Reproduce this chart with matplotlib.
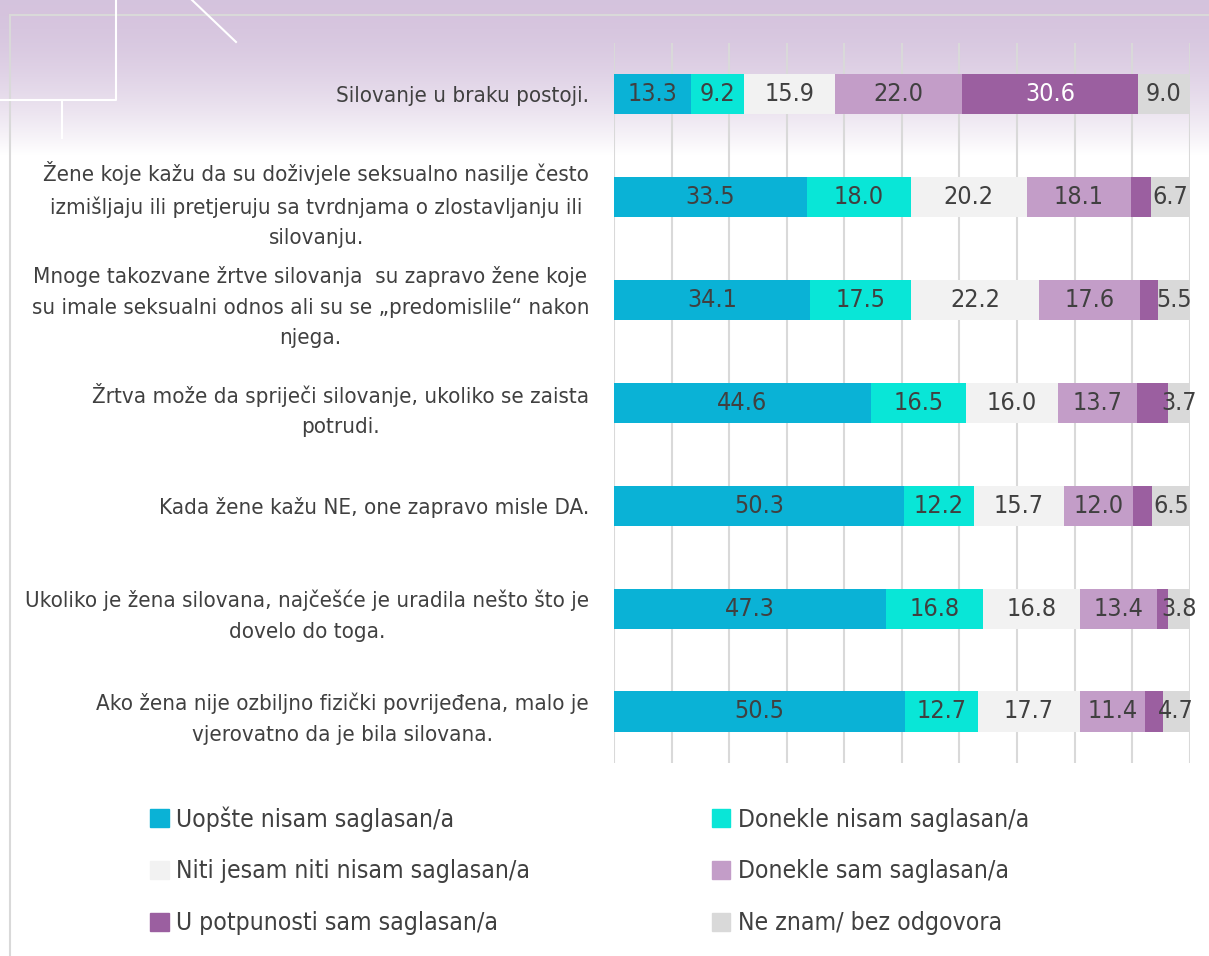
import numpy as np
import matplotlib.pyplot as plt
from matplotlib import font_manager as fm
from matplotlib.patches import Patch

# pick a narrow face if one is installed
fonts = fm.fontManager.ttflist
narrow = [f for f in fonts if ('Narrow' in f.name or 'Condensed' in f.name
                               or f.stretch in ('condensed', 'semi-condensed'))
          and f.weight in (400, 'normal', 'regular') and f.style == 'normal']
if narrow:
    plt.rcParams['font.family'] = [narrow[0].name, 'DejaVu Sans']
    plt.rcParams['font.stretch'] = narrow[0].stretch
    scale = 1.0
else:
    plt.rcParams['font.family'] = ['DejaVu Sans']
    scale = 0.8

statements = [
    'Silovanje u braku postoji.',
    'Žene koje kažu da su doživjele seksualno nasilje često\nizmišljaju ili pretjeruju sa tvrdnjama o zlostavljanju ili\nsilovanju.',
    'Mnoge takozvane žrtve silovanja  su zapravo žene koje\nsu imale seksualni odnos ali su se „predomislile“ nakon\nnjega.',
    'Žrtva može da spriječi silovanje, ukoliko se zaista\npotrudi.',
    'Kada žene kažu NE, one zapravo misle DA.',
    'Ukoliko je žena silovana, najčešće je uradila nešto što je\ndovelo do toga.',
    'Ako žena nije ozbiljno fizički povrijeđena, malo je\nvjerovatno da je bila silovana.',
]

answers = [
    'Uopšte nisam saglasan/a',
    'Donekle nisam saglasan/a',
    'Niti jesam niti nisam saglasan/a',
    'Donekle sam saglasan/a',
    'U potpunosti sam saglasan/a',
    'Ne znam/ bez odgovora',
]

uopste = [13.3, 33.5, 34.1, 44.6, 50.3, 47.3, 50.5]
donekle_ne = [9.2, 18.0, 17.5, 16.5, 12.2, 16.8, 12.7]
niti = [15.9, 20.2, 22.2, 16.0, 15.7, 16.8, 17.7]
donekle_da = [22.0, 18.1, 17.6, 13.7, 12.0, 13.4, 11.4]
potpuno = [30.6, 3.5, 3.1, 5.5, 3.3, 1.9, 3.0]
ne_znam = [9.0, 6.7, 5.5, 3.7, 6.5, 3.8, 4.7]

colors = ['#0AB2D6', '#09E6D7', '#F2F2F2', '#C39DC8', '#9B5FA0', '#D9D9D9']
series = [uopste, donekle_ne, niti, donekle_da, potpuno, ne_znam]

fig = plt.figure(figsize=(12.09, 9.56), dpi=100)

# background: lavender gradient and decorative lines (pixel coordinates)
bg = fig.add_axes([0, 0, 1, 1], zorder=-1)
bg.set_xlim(0, 1209)
bg.set_ylim(956, 0)
bg.axis('off')
grad = np.linspace(0, 1, 200)[:, None] ** 1.8
top = np.array([0.835, 0.765, 0.868])
img = top + (1 - top) * grad[..., None]
img = np.repeat(img, 2, axis=1)
bg.imshow(img, extent=[0, 1209, 155, 0], aspect='auto')
bg.plot([10, 1209], [15, 15], color='#D9D9D9', lw=1.5)
bg.plot([10, 10], [15, 956], color='#D9D9D9', lw=1.5)
bg.plot([116, 116, 0], [0, 100, 100], color='white', lw=1.5)
bg.plot([62, 62], [100, 138], color='white', lw=1.5)
bg.plot([192, 236], [0, 42], color='white', lw=1.5)

ax = fig.add_axes([0.508, 0.202, 0.476, 0.753])
ax.set_facecolor('none')

y = np.arange(len(statements))
left = np.zeros(len(statements))
for i, (vals, col) in enumerate(zip(series, colors)):
    vals = np.array(vals)
    ax.barh(y, vals, left=left, height=0.39, color=col, zorder=3)
    for j, v in enumerate(vals):
        if i == 4 and v < 10:
            continue
        tc = 'white' if i == 4 else '#404040'
        ax.text(left[j] + v / 2, y[j], f'{v:.1f}', ha='center', va='center',
                fontsize=18 * scale, color=tc, zorder=4)
    left += vals

ax.set_xlim(0, 100)
ax.set_ylim(6.5, -0.5)
ax.set_xticks(np.arange(0, 101, 10))
ax.set_xticklabels([])
ax.grid(axis='x', color='#D9D9D9', lw=1.5, zorder=0)
ax.tick_params(axis='x', length=0)
ax.tick_params(axis='y', length=0, pad=18, labelsize=16 * scale,
               labelcolor='#404040')
ax.set_yticks(y)
ax.set_yticklabels(statements)
for t in ax.get_yticklabels():
    t.set_multialignment('center')
    t.set_linespacing(1.65)
for s in ax.spines.values():
    s.set_visible(False)

handles = [Patch(color=c) for c in colors]
order = [0, 2, 4, 1, 3, 5]
fig.legend([handles[k] for k in order], [answers[k] for k in order],
           ncols=2, loc='upper left', bbox_to_anchor=(0.106, 0.18),
           frameon=False, fontsize=17.7 * scale, labelcolor='#404040',
           handlelength=0.75, handleheight=0.75, handletextpad=0.3,
           columnspacing=7.4, labelspacing=1.13)

fig.savefig('out.png', dpi=100)
